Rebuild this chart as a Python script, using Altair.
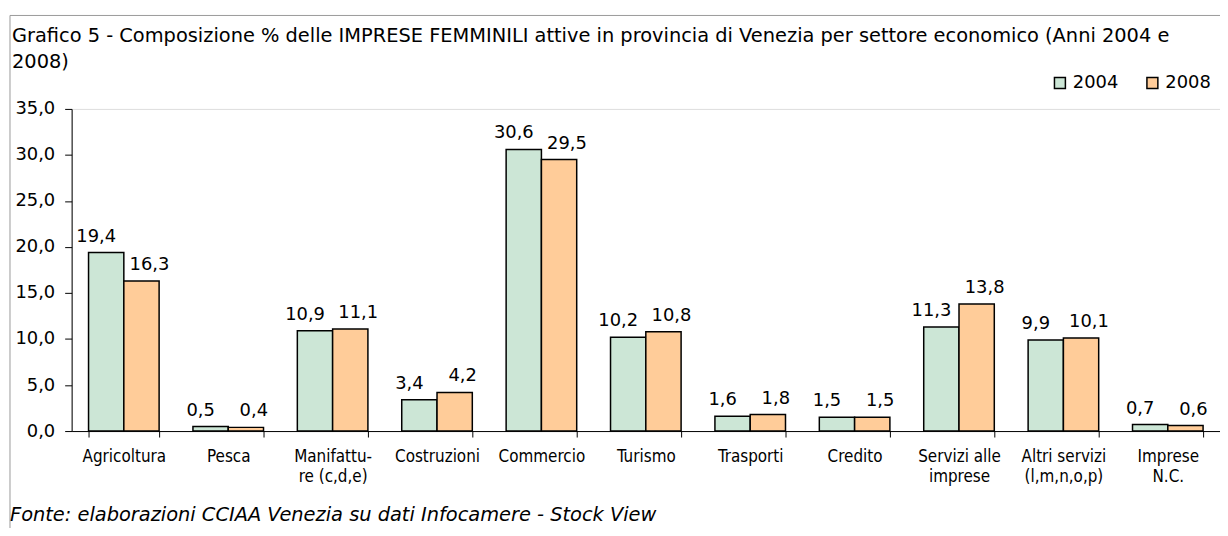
import altair as alt
import pandas as pd

categories = ["Agricoltura", "Pesca", "Manifattu-|re (c,d,e)", "Costruzioni", "Commercio",
              "Turismo", "Trasporti", "Credito", "Servizi alle|imprese",
              "Altri servizi|(l,m,n,o,p)", "Imprese|N.C."]
v2004 = [19.4, 0.5, 10.9, 3.4, 30.6, 10.2, 1.6, 1.5, 11.3, 9.9, 0.7]
v2008 = [16.3, 0.4, 11.1, 4.2, 29.5, 10.8, 1.8, 1.5, 13.8, 10.1, 0.6]
years = ["2004", "2008"]
colors = ["#CCE6D6", "#FFCC99"]
y_ticks = [0, 5, 10, 15, 20, 25, 30, 35]

title_text = ("Grafico 5 - Composizione % delle IMPRESE FEMMINILI attive in provincia di Venezia "
              "per settore economico (Anni 2004 e\n2008)")
footer_text = "Fonte: elaborazioni CCIAA Venezia su dati Infocamere - Stock View"

rows = []
for c, a, b in zip(categories, v2004, v2008):
    rows.append({"settore": c, "anno": "2004", "valore": a})
    rows.append({"settore": c, "anno": "2008", "valore": b})
df = pd.DataFrame(rows)

FONT = "DejaVu Sans Condensed"
NUMFONT = "DejaVu Sans"

x = alt.X("settore:N", sort=categories,
          scale=alt.Scale(domain=categories, paddingInner=0.324, paddingOuter=0.162),
          axis=alt.Axis(title=None, labelAngle=0, labelExpr="split(datum.label, '|')",
                        tickBand="extent", tickSize=6, tickColor="#000", domainColor="#000",
                        labelFont=FONT, labelFontSize=17, labelColor="#000",
                        labelPadding=12, labelLineHeight=20))
y = alt.Y("valore:Q", scale=alt.Scale(domain=[0, 35], nice=False),
          axis=alt.Axis(values=y_ticks, title=None, grid=False,
                        labelExpr="replace(format(datum.value, '.1f'), '.', ',')",
                        tickSize=7, tickColor="#000", domainColor="#000",
                        labelFont=NUMFONT, labelFontSize=18, labelColor="#000",
                        labelPadding=10))
xoff = alt.XOffset("anno:N", scale=alt.Scale(domain=years, paddingInner=0, paddingOuter=0))

base = alt.Chart(df)

bars = base.mark_bar(stroke="black", strokeWidth=1.5).encode(
    x=x, xOffset=xoff, y=y,
    fill=alt.Fill("anno:N", scale=alt.Scale(domain=years, range=colors),
                  legend=alt.Legend(title=None, orient="none", legendX=985, legendY=-35,
                                    direction="horizontal", symbolType="square",
                                    symbolSize=121, symbolStrokeColor="black",
                                    symbolStrokeWidth=1.5, labelFont=NUMFONT,
                                    labelFontSize=18, labelColor="black",
                                    columnPadding=25, labelOffset=4, padding=0))
)

def labels(year, dx):
    return base.transform_filter(alt.datum.anno == year).transform_calculate(
        lab="replace(format(datum.valore, '.1f'), '.', ',')"
    ).mark_text(dx=dx, dy=-11, baseline="alphabetic", font=NUMFONT, fontSize=18,
                color="black").encode(x=x, xOffset=xoff, y=y, text="lab:N")

title = alt.Chart(pd.DataFrame({"t": [title_text]})).mark_text(
    align="left", baseline="alphabetic", font=NUMFONT, fontSize=19.5, lineBreak="\n",
    lineHeight=26, color="black").encode(x=alt.value(-60), y=alt.value(-67), text="t:N")

footer = alt.Chart(pd.DataFrame({"t": [footer_text]})).mark_text(
    align="left", baseline="alphabetic", font=NUMFONT, fontSize=19.5, fontStyle="italic",
    color="black").encode(x=alt.value(-62), y=alt.value(414), text="t:N")

frame = alt.Chart(pd.DataFrame({"k": [1]}))
top_line = frame.mark_rule(color="#999999", strokeWidth=1).encode(
    x=alt.value(-62), x2=alt.value(1160), y=alt.value(-94))
left_line = frame.mark_rule(color="#999999", strokeWidth=1).encode(
    x=alt.value(-62), y=alt.value(-94), y2=alt.value(430))

chart = alt.layer(top_line, left_line, bars, labels("2004", -10), labels("2008", 8),
                  title, footer).properties(
    width=1155, height=324,
    autosize=alt.AutoSizeParams(type="none"),
    padding={"left": 64, "top": 100, "right": 0, "bottom": 96},
).configure_view(stroke=None).configure(background="white")

chart.save("out.html", embed_options={"renderer": "svg", "actions": False})
